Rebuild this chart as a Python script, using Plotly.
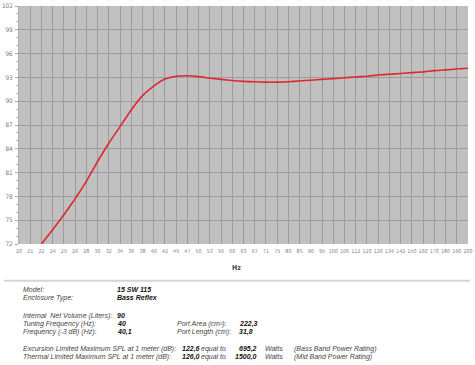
import plotly.graph_objects as go

# ---- data ----
freq_ticks = ["20", "21", "22", "24", "25", "26", "28", "30", "32", "34", "36", "38", "40",
              "42", "45", "47", "50", "53", "56", "60", "63", "67", "71", "75", "80", "85",
              "90", "95", "100", "106", "112", "120", "126", "134", "142", "150", "160",
              "170", "180", "190", "200"]
curve_freq = freq_ticks[2:]
curve_spl = [72.0, 73.8, 75.7, 77.7, 79.9, 82.4, 84.7, 86.8, 88.9, 90.7, 91.9, 92.8,
             93.15, 93.2, 93.1, 92.9, 92.75, 92.6, 92.5, 92.45, 92.4, 92.4, 92.45, 92.55,
             92.65, 92.75, 92.85, 92.95, 93.05, 93.15, 93.3, 93.4, 93.5, 93.6, 93.7,
             93.85, 93.95, 94.05, 94.15]
y_ticks = [72, 75, 78, 81, 84, 87, 90, 93, 96, 99, 102]

left_labels = ["Model:", "Enclosure Type:", "Internal  Net Volume (Liters):",
               "Tuning Frequency (Hz):", "Frequency (-3 dB) (Hz):",
               "Excursion Limited Maximum SPL at 1 meter (dB):",
               "Thermal Limited Maximum SPL at 1 meter (dB):"]
left_values = ["15 SW 115", "Bass Reflex", "90", "40", "40,1", "122,6", "126,0"]
port_labels = ["Port Area (cm²):", "Port Length (cm):"]
port_values = ["222,3", "31,8"]
watts_values = ["695,2", "1500,0"]
ratings = ["(Bass Band Power Rating)", "(Mid Band Power Rating)"]

# ---- layout helpers (pixel -> paper) ----
W, H = 475, 365
L, R, T, B = 15, 2, 5, 121
pw, ph = W - L - R, H - T - B


def px(x):
    return (x - L) / pw


def py(y):
    return (H - B - y) / ph


fig = go.Figure()
fig.add_trace(go.Scatter(x=curve_freq, y=curve_spl, mode="lines",
                         line=dict(color="#e0262c", width=1.6, shape="spline", smoothing=0.5),
                         hoverinfo="skip", showlegend=False))

xtickfont = dict(family="DejaVu Sans Condensed", size=5.3, color="#808080")
ytickfont = dict(family="DejaVu Sans Condensed", size=6.3, color="#777777")
fig.update_layout(
    width=W, height=H,
    margin=dict(l=L, r=R, t=T, b=B, pad=0),
    paper_bgcolor="white", plot_bgcolor="#c0c0c0",
    showlegend=False,
    xaxis=dict(type="category", categoryorder="array", categoryarray=freq_ticks,
               range=[0, len(freq_ticks) - 1], tickvals=freq_ticks, ticktext=freq_ticks,
               showgrid=True, gridcolor="#9c9c9c", gridwidth=1, zeroline=False,
               tickfont=xtickfont, ticks="", tickangle=0, ticklabelstandoff=3,
               showline=False),
    yaxis=dict(range=[72, 102], tickvals=y_ticks, showgrid=True, gridcolor="#9c9c9c",
               gridwidth=1, zeroline=False, tickfont=ytickfont, ticks="outside",
               ticklen=3, tickcolor="#aaaaaa", ticklabelstandoff=1,
               minor=dict(dtick=1, ticks="outside", ticklen=2, tickcolor="#bbbbbb",
                          showgrid=False),
               showline=True, linecolor="#aaaaaa", linewidth=1),
)

anns = []
anns.append(dict(x=px(237), y=py(268), xref="paper", yref="paper", text="<b>Hz</b>",
                 showarrow=False, xanchor="center", yanchor="middle",
                 font=dict(family="DejaVu Sans Condensed", size=7, color="#444444")))

tfont = dict(family="Liberation Sans", size=7, color="#444444")
vfont = dict(family="Liberation Sans", size=7, color="#111111")
label_y = [290, 298, 316, 324, 332, 349, 357]
for lab, yy in zip(left_labels, label_y):
    anns.append(dict(x=px(17), y=py(yy), xref="paper", yref="paper", text=f"<i>{lab}</i>",
                     showarrow=False, xanchor="left", yanchor="middle", font=tfont))
for i, (val, yy) in enumerate(zip(left_values, label_y)):
    xx = 113 if i < 5 else 179
    anns.append(dict(x=px(xx), y=py(yy), xref="paper", yref="paper", text=f"<b><i>{val}</i></b>",
                     showarrow=False, xanchor="left", yanchor="middle", font=vfont))
for lab, val, yy in zip(port_labels, port_values, [324, 332]):
    anns.append(dict(x=px(174), y=py(yy), xref="paper", yref="paper", text=f"<i>{lab}</i>",
                     showarrow=False, xanchor="left", yanchor="middle", font=tfont))
    anns.append(dict(x=px(237), y=py(yy), xref="paper", yref="paper", text=f"<b><i>{val}</i></b>",
                     showarrow=False, xanchor="left", yanchor="middle", font=vfont))
for w, r, yy in zip(watts_values, ratings, [349, 357]):
    anns.append(dict(x=px(199), y=py(yy), xref="paper", yref="paper", text="<i>equal to</i>",
                     showarrow=False, xanchor="left", yanchor="middle", font=tfont))
    anns.append(dict(x=px(260), y=py(yy), xref="paper", yref="paper", text=f"<b><i>{w}</i></b>",
                     showarrow=False, xanchor="right", yanchor="middle", font=vfont))
    anns.append(dict(x=px(264), y=py(yy), xref="paper", yref="paper", text="<i>Watts</i>",
                     showarrow=False, xanchor="left", yanchor="middle", font=tfont))
    anns.append(dict(x=px(293), y=py(yy), xref="paper", yref="paper", text=f"<i>{r}</i>",
                     showarrow=False, xanchor="left", yanchor="middle", font=tfont))
fig.update_layout(annotations=anns)

fig.add_shape(type="line", xref="paper", yref="paper", x0=px(0), x1=px(W), y0=py(281), y1=py(281),
              line=dict(color="#d4d4d4", width=2))

fig.write_html("out.html")
